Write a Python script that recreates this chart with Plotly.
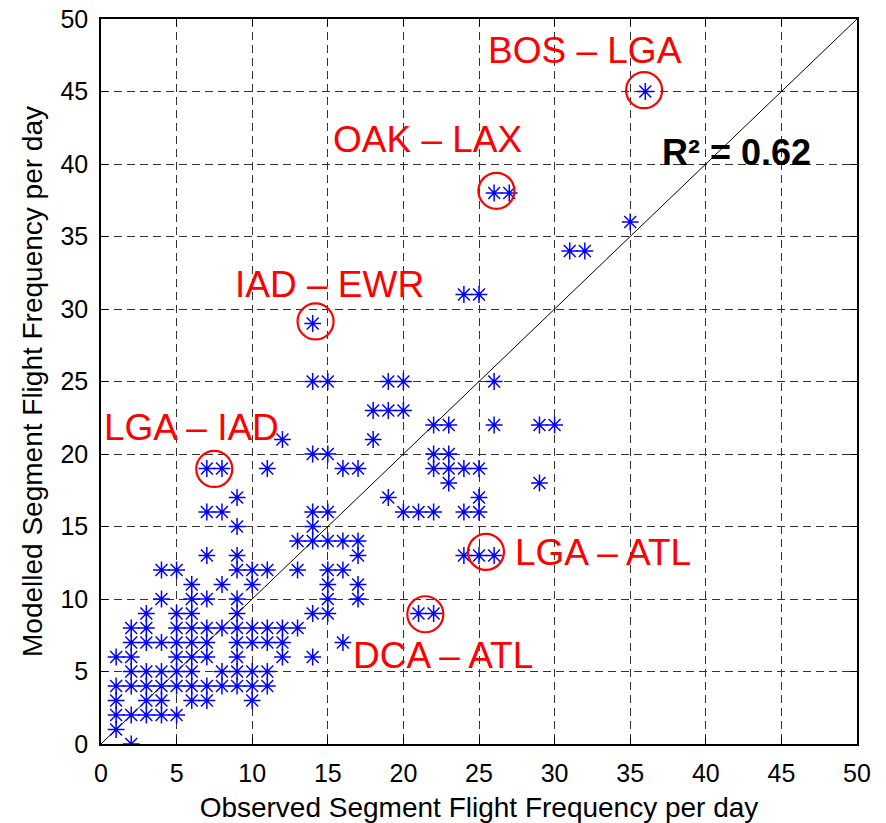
import plotly.graph_objects as go

# Observed vs. modelled daily flight frequency for each airport-pair segment
observed = [
    2,
    1,
    1, 2, 3, 4, 5,
    1, 3, 4, 6, 7, 10,
    1, 2, 3, 4, 5, 6, 7, 8, 9, 10, 11,
    2, 3, 4, 5, 6, 8, 9, 10, 11,
    1, 2, 5, 6, 7, 9, 12, 14,
    2, 3, 4, 5, 6, 7, 9, 10, 11, 12, 16,
    2, 3, 5, 6, 7, 8, 9, 10, 11, 12, 13,
    3, 5, 6, 9, 14, 15, 21, 22,
    4, 6, 7, 9, 15, 17,
    6, 8, 10, 15, 17,
    4, 5, 9, 10, 11, 13, 15, 16,
    7, 9, 17, 24, 25, 26,
    13, 14, 15, 16, 17,
    9, 14,
    7, 8, 14, 15, 20, 21, 22, 24, 25,
    9, 19, 25,
    23, 29,
    7, 8, 11, 16, 17, 22, 23, 24, 25,
    14, 15, 22, 23,
    12, 18,
    22, 23, 26, 29, 30,
    18, 19, 20,
    14, 15, 19, 20, 26,
    14,
    24, 25,
    31, 32,
    35,
    26, 27,
    36,
]
modelled = [
    0,
    1,
    2, 2, 2, 2, 2,
    3, 3, 3, 3, 3, 3,
    4, 4, 4, 4, 4, 4, 4, 4, 4, 4, 4,
    5, 5, 5, 5, 5, 5, 5, 5, 5,
    6, 6, 6, 6, 6, 6, 6, 6,
    7, 7, 7, 7, 7, 7, 7, 7, 7, 7, 7,
    8, 8, 8, 8, 8, 8, 8, 8, 8, 8, 8,
    9, 9, 9, 9, 9, 9, 9, 9,
    10, 10, 10, 10, 10, 10,
    11, 11, 11, 11, 11,
    12, 12, 12, 12, 12, 12, 12, 12,
    13, 13, 13, 13, 13, 13,
    14, 14, 14, 14, 14,
    15, 15,
    16, 16, 16, 16, 16, 16, 16, 16, 16,
    17, 17, 17,
    18, 18,
    19, 19, 19, 19, 19, 19, 19, 19, 19,
    20, 20, 20, 20,
    21, 21,
    22, 22, 22, 22, 22,
    23, 23, 23,
    25, 25, 25, 25, 25,
    29,
    31, 31,
    34, 34,
    36,
    38, 38,
    45,
]

# Highlighted segments: ring centre and label position
routes = ["BOS – LGA", "OAK – LAX", "IAD – EWR", "LGA – IAD", "LGA – ATL", "DCA – ATL"]
ring_x = [35.92, 26.15, 14.19, 7.49, 25.46, 21.45]
ring_y = [45.09, 38.15, 29.14, 18.97, 13.25, 8.95]
label_x = [32.0, 21.6, 15.1, 6.0, 33.2, 22.6]
label_y = [47.8, 41.7, 31.7, 21.8, 13.2, 6.1]

r_squared = 0.62

fig = go.Figure()

# 1:1 reference line
fig.add_trace(go.Scatter(
    x=[0, 50], y=[0, 50], mode="lines",
    line=dict(color="black", width=1), hoverinfo="skip",
))

fig.add_trace(go.Scatter(
    x=observed, y=modelled, mode="markers",
    marker=dict(symbol="asterisk-open", size=14, color="#0000ff",
                line=dict(color="#0000ff", width=1.5)),
))

fig.add_trace(go.Scatter(
    x=ring_x, y=ring_y, mode="markers",
    marker=dict(symbol="circle-open", size=36, color="#ff0000",
                line=dict(color="#ff0000", width=2.2)),
))

for name, lx, ly in zip(routes, label_x, label_y):
    fig.add_annotation(
        x=lx, y=ly, text=name, showarrow=False,
        xanchor="center", yanchor="middle",
        font=dict(family="Liberation Sans, Arial", size=37, color="#ff0000"),
    )

fig.add_annotation(
    x=42.0, y=40.8, text=f"<b>R² = {r_squared:.2f}</b>", showarrow=False,
    xanchor="center", yanchor="middle",
    font=dict(family="Liberation Sans, Arial", size=36, color="black"),
)

axis_common = dict(
    range=[0, 50], tick0=0, dtick=5, automargin=False,
    showline=True, linecolor="black", linewidth=1.5, mirror="ticks",
    ticks="inside", ticklen=7, tickwidth=1, tickcolor="black",
    showgrid=True, gridcolor="#333333", gridwidth=1, griddash="8px,5px",
    zeroline=False,
    tickfont=dict(family="Liberation Sans, Arial", size=25, color="black"),
)

fig.update_xaxes(
    **axis_common,
    ticklabelstandoff=6,
    title=dict(text="Observed Segment Flight Frequency per day",
               font=dict(family="Liberation Sans, Arial", size=28, color="black"),
               standoff=12),
)
fig.update_yaxes(
    **axis_common,
    ticklabelstandoff=6,
    title=dict(text="Modelled Segment Flight Frequency per day",
               font=dict(family="Liberation Sans, Arial", size=28, color="black"),
               standoff=10),
)

fig.update_layout(
    width=886, height=823,
    margin=dict(l=101, r=29, t=19, b=79),
    plot_bgcolor="white", paper_bgcolor="white",
    showlegend=False,
    font=dict(family="Liberation Sans, Arial"),
)

fig.write_html("out.html")
